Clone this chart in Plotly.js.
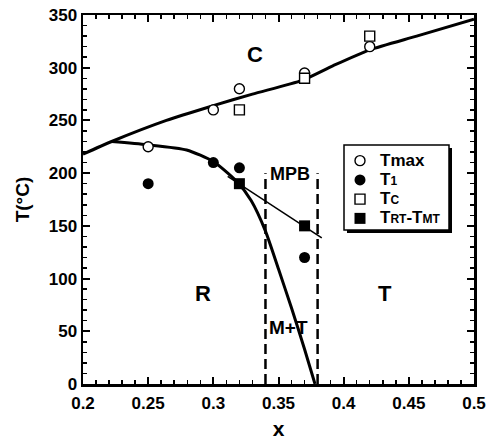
<!DOCTYPE html>
<html>
<head>
<meta charset="utf-8">
<script src="https://cdn.plot.ly/plotly-3.0.1.min.js"></script>
<style>html,body{margin:0;padding:0;background:#fff;}#chart{width:487px;height:441px;}</style>
</head>
<body>
<div id="chart"></div>
<script>
// ---- data ----
var tmaxX = [0.25, 0.30, 0.32, 0.37, 0.42];
var tmaxY = [225, 260, 280, 295, 320];

var t1X = [0.25, 0.30, 0.32, 0.37];
var t1Y = [190, 210, 205, 120];

var tcX = [0.32, 0.37, 0.42];
var tcY = [260, 290, 330];

var trtX = [0.32, 0.37];
var trtY = [190, 150];

// upper (cubic) boundary
var upperX = [0.20, 0.222, 0.264, 0.30, 0.33, 0.368, 0.392, 0.42, 0.456, 0.50];
var upperY = [218, 230, 250, 264, 275, 288, 302, 317, 330, 346];

// lower R boundary curve
var lowerX = [0.222, 0.249, 0.2795, 0.30, 0.318, 0.329, 0.34, 0.35, 0.36, 0.37, 0.378];
var lowerY = [230, 227, 222, 211, 192, 174, 145, 109, 72, 33, 0];

// thin R-T line through TRT-TMT points
var thinX = [0.311, 0.3832];
var thinY = [197, 138.5];

// MPB dashed lines
var mpbLeftX = [0.34, 0.34];
var mpbRightX = [0.38, 0.38];
var mpbY = [0, 200];

var xTickVals = [0.2, 0.25, 0.3, 0.35, 0.4, 0.45, 0.5];
var xTickText = ['0.2', '0.25', '0.3', '0.35', '0.4', '0.45', '0.5'];
var yTickVals = [0, 50, 100, 150, 200, 250, 300, 350];
var yTickText = ['0', '50', '100', '150', '200', '250', '300', '350'];

var regionLabels = ['C', 'R', 'T', 'MPB', 'M+T'];
var regionX = [0.332, 0.292, 0.432, 0.359, 0.358];
var regionY = [313, 86, 86, 199, 54];
var regionSize = [22, 22, 22, 18, 19];

// ---- chart ----
var FONT = 'Liberation Sans, Arial, Helvetica, sans-serif';
var small = function (s) { return '<span style="font-size:12px">' + s + '</span>'; };
var big = function (s) { return '<span style="font-size:17px">' + s + '</span>'; };

var traces = [
  {x: upperX, y: upperY, mode: 'lines', line: {color: '#000', width: 3, shape: 'spline', smoothing: 0.6}, showlegend: false, hoverinfo: 'skip'},
  {x: lowerX, y: lowerY, mode: 'lines', line: {color: '#000', width: 3, shape: 'spline', smoothing: 0.6}, showlegend: false, hoverinfo: 'skip'},
  {x: thinX, y: thinY, mode: 'lines', line: {color: '#000', width: 1.5}, showlegend: false, hoverinfo: 'skip'},
  {x: mpbLeftX, y: mpbY, mode: 'lines', line: {color: '#000', width: 2.5, dash: '10px,5px'}, showlegend: false, hoverinfo: 'skip'},
  {x: mpbRightX, y: mpbY, mode: 'lines', line: {color: '#000', width: 2.5, dash: '10px,5px'}, showlegend: false, hoverinfo: 'skip'},
  {x: tmaxX, y: tmaxY, mode: 'markers', name: big('Tmax'),
   marker: {symbol: 'circle', size: 10, color: '#fff', line: {color: '#000', width: 1.4}}},
  {x: t1X, y: t1Y, mode: 'markers', name: big('T' + small('1')),
   marker: {symbol: 'circle', size: 11, color: '#000', line: {color: '#000', width: 0}}},
  {x: tcX, y: tcY, mode: 'markers', name: big('T' + small('C')),
   marker: {symbol: 'square', size: 10, color: '#fff', line: {color: '#000', width: 1.4}}},
  {x: trtX, y: trtY, mode: 'markers', name: big('T' + small('RT') + '-T' + small('MT')),
   marker: {symbol: 'square', size: 11, color: '#000', line: {color: '#000', width: 0}}}
];

var annotations = regionLabels.map(function (t, i) {
  return {x: regionX[i], y: regionY[i], xref: 'x', yref: 'y', text: t, showarrow: false,
          font: {family: FONT, size: regionSize[i], color: '#000', weight: 'bold'},
          xanchor: 'center', yanchor: 'middle'};
});

function px(p) { return (p - 83) / 391; }
function py(p) { return (384 - p) / 369; }

var layout = {
  width: 487, height: 441,
  margin: {l: 83, r: 13, t: 15, b: 57},
  paper_bgcolor: '#fff', plot_bgcolor: '#fff',
  font: {family: FONT, color: '#000'},
  showlegend: true,
  legend: {x: px(340), y: py(146), xanchor: 'left', yanchor: 'top',
           bgcolor: 'rgba(0,0,0,0)', borderwidth: 0,
           font: {family: FONT, size: 12.5, color: '#000', weight: 'bold'}},
  xaxis: {range: [0.2, 0.5], tickvals: xTickVals, ticktext: xTickText,
          ticks: 'inside', ticklen: 7, tickwidth: 2, tickcolor: '#000',
          showline: true, linewidth: 2.5, linecolor: '#000', mirror: 'allticks',
          showgrid: false, zeroline: false,
          minor: {dtick: 0.01, tick0: 0.2, ticks: 'inside', ticklen: 4, tickwidth: 1.5, tickcolor: '#000', showgrid: false},
          tickfont: {family: FONT, size: 17, color: '#000', weight: 'bold'},
          ticklabelstandoff: 2,
          title: {text: 'x', font: {family: FONT, size: 21, color: '#000', weight: 'bold'}, standoff: 10}},
  yaxis: {range: [0, 350], tickvals: yTickVals, ticktext: yTickText,
          ticks: 'inside', ticklen: 7, tickwidth: 2, tickcolor: '#000',
          showline: true, linewidth: 2.5, linecolor: '#000', mirror: 'allticks',
          showgrid: false, zeroline: false,
          minor: {dtick: 10, tick0: 0, ticks: 'inside', ticklen: 4, tickwidth: 1.5, tickcolor: '#000', showgrid: false},
          tickfont: {family: FONT, size: 17, color: '#000', weight: 'bold'},
          title: {text: 'T(°C)', font: {family: FONT, size: 19, color: '#000', weight: 'bold'}, standoff: 14}},
  annotations: annotations,
  shapes: [
    {type: 'rect', xref: 'paper', yref: 'paper', x0: px(347), x1: px(452), y0: py(233), y1: py(148),
     fillcolor: '#000', line: {width: 0}, layer: 'above'},
    {type: 'rect', xref: 'paper', yref: 'paper', x0: px(344), x1: px(449), y0: py(230), y1: py(145),
     fillcolor: '#fff', line: {color: '#000', width: 1.5}, layer: 'above'}
  ]
};

Plotly.newPlot('chart', traces, layout, {displayModeBar: false, staticPlot: true});
</script>
</body>
</html>
